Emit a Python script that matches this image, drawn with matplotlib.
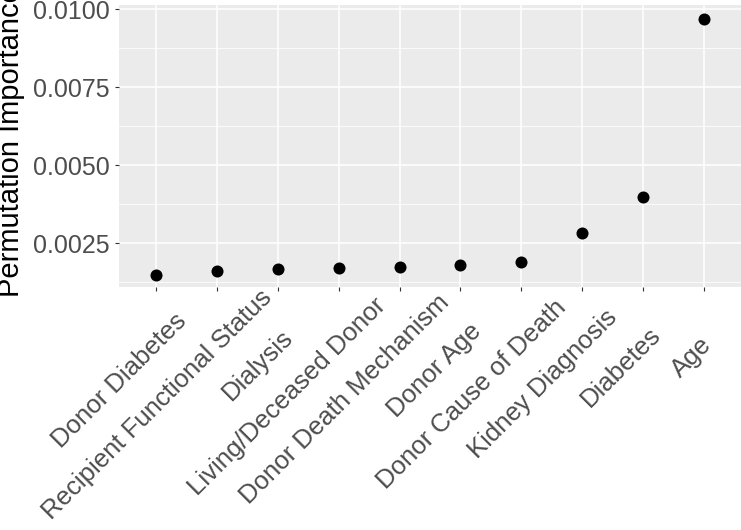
import numpy as np
import matplotlib
matplotlib.use('Agg')
import matplotlib.pyplot as plt
from matplotlib.ticker import MultipleLocator
from matplotlib.transforms import IdentityTransform

plt.rcParams['font.family'] = ['Liberation Sans', 'DejaVu Sans']

features = ['Donor Diabetes', 'Recipient Functional Status', 'Dialysis',
            'Living/Deceased Donor', 'Donor Death Mechanism', 'Donor Age',
            'Donor Cause of Death', 'Kidney Diagnosis', 'Diabetes', 'Age']
importance = [0.00147, 0.00160, 0.00166, 0.00171, 0.00173, 0.00180,
              0.00190, 0.00283, 0.00397, 0.00971]

W, H = 741, 530
fig = plt.figure(figsize=(W / 100, H / 100), dpi=100)
ax = fig.add_axes([119/W, 1 - 287/H, 1 - 119/W, (287 - 5)/H])
ax.set_facecolor('#EBEBEB')

x = np.arange(1, len(features) + 1)
ax.scatter(x, importance, s=75, color='black', zorder=3, linewidths=0)

ax.set_xlim(0.4, len(features) + 0.6)
ax.set_ylim(0.00109, 0.010144)
ax.set_xticks(x)
ax.set_xticklabels([])
ax.yaxis.set_minor_locator(MultipleLocator(0.00125))
ax.set_yticks([0.0025, 0.005, 0.0075, 0.01])
ax.set_yticklabels(['0.0025', '0.0050', '0.0075', '0.0100'], fontsize=18, color='#4D4D4D')

ax.grid(which='major', color='white', linewidth=1.1, zorder=0)
ax.grid(which='minor', axis='y', color='white', linewidth=0.55, zorder=0)
ax.set_axisbelow(True)
ax.tick_params(which='major', length=3, color='#333333', width=0.8, pad=3.5)
ax.tick_params(which='minor', length=0)
for s in ax.spines.values():
    s.set_visible(False)

# y title: baseline ~19px from left, centred near panel middle
fig.text(19, H - 142, 'Permutation Importance', fontsize=21, color='black',
         rotation=90, rotation_mode='anchor', ha='center', va='baseline',
         transform=IdentityTransform())

# rotated x labels, placed like ggplot angle=45
labs = []
for xi, name in zip(x, features):
    t = ax.text(0, 0, name, fontsize=18.5, color='#4D4D4D', rotation=45,
                rotation_mode='anchor', ha='center', va='center',
                transform=IdentityTransform())
    labs.append(t)
fig.canvas.draw()
r = fig.canvas.get_renderer()
for xi, t in zip(x, labs):
    ext = t.get_window_extent(r).width
    tx = ax.transData.transform((xi, 0))[0]
    t.set_position((tx - 0.25 * ext, (H - 345) - 0.25 * ext))

fig.savefig('out.png', dpi=100)
